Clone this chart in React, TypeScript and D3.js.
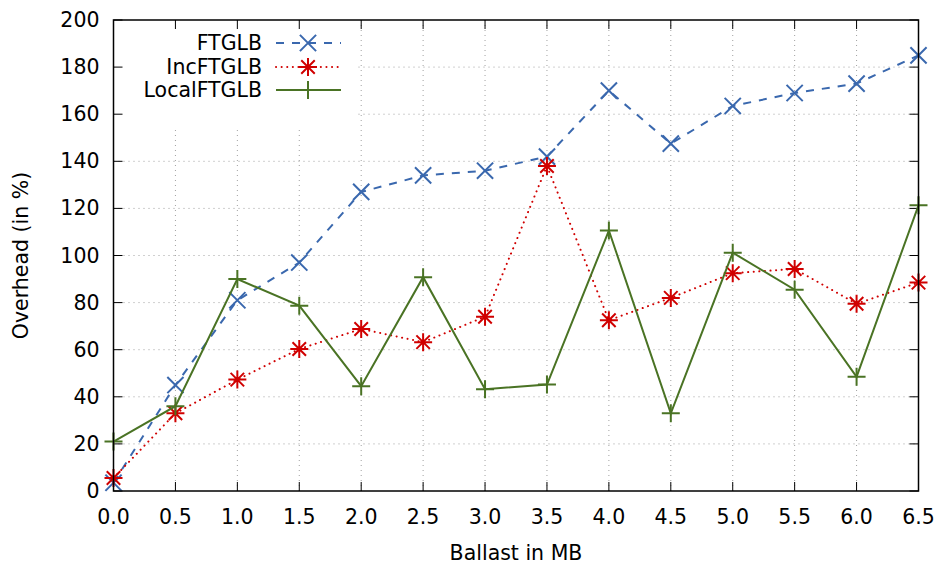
import React from 'react'
import * as d3 from 'd3'

const ballast = [0, 0.5, 1, 1.5, 2, 2.5, 3, 3.5, 4, 4.5, 5, 5.5, 6, 6.5]
const ftglb = [3.5, 45, 81, 97, 127, 134, 136, 142, 170, 147.5, 163.5, 169, 173, 185]
const incFtglb = [5.5, 33, 47.3, 60.3, 68.8, 63.2, 74, 138, 72.5, 82, 92.5, 94.3, 79.5, 88.5]
const localFtglb = [21, 36, 90, 78.7, 44.5, 90.8, 43.2, 45.2, 110.6, 33, 101.2, 85.5, 48.5, 121.3]
const xTicks = [0, 0.5, 1, 1.5, 2, 2.5, 3, 3.5, 4, 4.5, 5, 5.5, 6, 6.5]
const yTicks = [0, 20, 40, 60, 80, 100, 120, 140, 160, 180, 200]

const W = 938
const H = 567
const M = { left: 113.5, right: 19.5, top: 20, bottom: 76 }
const FONT = 'DejaVu Sans, sans-serif'
const FS = 20.5

type Series = {
  name: string
  values: number[]
  color: string
  dash: string
  cap?: 'round' | 'butt'
  marker: 'x' | 'star' | 'plus'
}

const series: Series[] = [
  { name: 'FTGLB', values: ftglb, color: '#3a68ae', dash: '8,8', marker: 'x' },
  { name: 'IncFTGLB', values: incFtglb, color: '#d00000', dash: '0.1,5.5', cap: 'round', marker: 'star' },
  { name: 'LocalFTGLB', values: localFtglb, color: '#4a7324', dash: '', marker: 'plus' },
]

function Marker({ kind, x, y, color }: { kind: string; x: number; y: number; color: string }) {
  const s = 9
  const d = s * 0.9
  let path = ''
  if (kind === 'x') {
    path = `M${x - d},${y - d}L${x + d},${y + d}M${x - d},${y + d}L${x + d},${y - d}`
  } else if (kind === 'plus') {
    path = `M${x - s},${y}L${x + s},${y}M${x},${y - s}L${x},${y + s}`
  } else {
    const a = s * 0.75
    path =
      `M${x - s},${y}L${x + s},${y}M${x},${y - s}L${x},${y + s}` +
      `M${x - a},${y - a}L${x + a},${y + a}M${x - a},${y + a}L${x + a},${y - a}`
  }
  return <path d={path} stroke={color} strokeWidth={2} fill="none" />
}

export default function App() {
  const x = d3.scaleLinear().domain([0, 6.5]).range([M.left, W - M.right])
  const y = d3.scaleLinear().domain([0, 200]).range([H - M.bottom, M.top])
  const line = d3
    .line<number>()
    .x((_, i) => x(ballast[i]))
    .y((d) => y(d))

  const x0 = x(0)
  const x1 = x(6.5)
  const y0 = y(0)
  const y1 = y(200)
  const tick = 9

  const legX = 262
  const legRows = [43, 67, 90]

  return (
    <svg width={W} height={H} style={{ position: 'absolute', left: 0, top: 0 }} fontFamily={FONT}>
      <rect width={W} height={H} fill="#fff" />

      {/* grid */}
      <g stroke="#a0a0a0" strokeWidth={1} strokeDasharray="1,4">
        {xTicks.slice(1, -1).map((t) => (
          <line key={'gx' + t} x1={x(t)} x2={x(t)} y1={y0} y2={y1} />
        ))}
        {yTicks.slice(1, -1).map((t) => (
          <line key={'gy' + t} x1={x0} x2={x1} y1={y(t)} y2={y(t)} />
        ))}
      </g>

      {/* legend background */}
      <rect x={x0 + 1} y={y1 + 1} width={243} height={106} fill="#fff" />

      {/* ticks */}
      <g stroke="#000" strokeWidth={1}>
        {xTicks.map((t) => (
          <g key={'tx' + t}>
            <line x1={x(t)} x2={x(t)} y1={y0} y2={y0 - tick} />
            <line x1={x(t)} x2={x(t)} y1={y1} y2={y1 + tick} />
          </g>
        ))}
        {yTicks.map((t) => (
          <g key={'ty' + t}>
            <line x1={x0} x2={x0 + tick} y1={y(t)} y2={y(t)} />
            <line x1={x1} x2={x1 - tick} y1={y(t)} y2={y(t)} />
          </g>
        ))}
      </g>

      {/* series */}
      {series.map((s) => (
        <g key={s.name}>
          <path
            d={line(s.values) ?? ''}
            fill="none"
            stroke={s.color}
            strokeWidth={2}
            strokeDasharray={s.dash || undefined}
            strokeLinecap={s.cap ?? 'butt'}
          />
          {s.values.map((v, i) => (
            <Marker key={i} kind={s.marker} x={x(ballast[i])} y={y(v)} color={s.color} />
          ))}
        </g>
      ))}

      {/* border */}
      <rect x={x0} y={y1} width={x1 - x0} height={y0 - y1} fill="none" stroke="#000" strokeWidth={1.5} />

      {/* tick labels */}
      <g fontSize={FS} fill="#000">
        {xTicks.map((t) => (
          <text key={'lx' + t} x={x(t)} y={y0 + 27} textAnchor="middle" dominantBaseline="middle">
            {t.toFixed(1)}
          </text>
        ))}
        {yTicks.map((t) => (
          <text key={'ly' + t} x={x0 - 14} y={y(t) + 1} textAnchor="end" dominantBaseline="middle">
            {t}
          </text>
        ))}
      </g>

      {/* axis titles */}
      <text x={(x0 + x1) / 2} y={554} fontSize={FS} textAnchor="middle" dominantBaseline="middle">
        Ballast in MB
      </text>
      <text
        transform={`translate(22,${(y0 + y1) / 2}) rotate(-90)`}
        fontSize={FS}
        textAnchor="middle"
        dominantBaseline="middle"
      >
        Overhead (in %)
      </text>

      {/* legend */}
      {series.map((s, i) => (
        <g key={'leg' + s.name}>
          <text x={legX} y={legRows[i] + 1} fontSize={FS} textAnchor="end" dominantBaseline="middle">
            {s.name}
          </text>
          <line
            x1={276}
            x2={341}
            y1={legRows[i]}
            y2={legRows[i]}
            stroke={s.color}
            strokeWidth={2}
            strokeDasharray={s.dash || undefined}
            strokeLinecap={s.cap ?? 'butt'}
          />
          <Marker kind={s.marker} x={308} y={legRows[i]} color={s.color} />
        </g>
      ))}
    </svg>
  )
}
